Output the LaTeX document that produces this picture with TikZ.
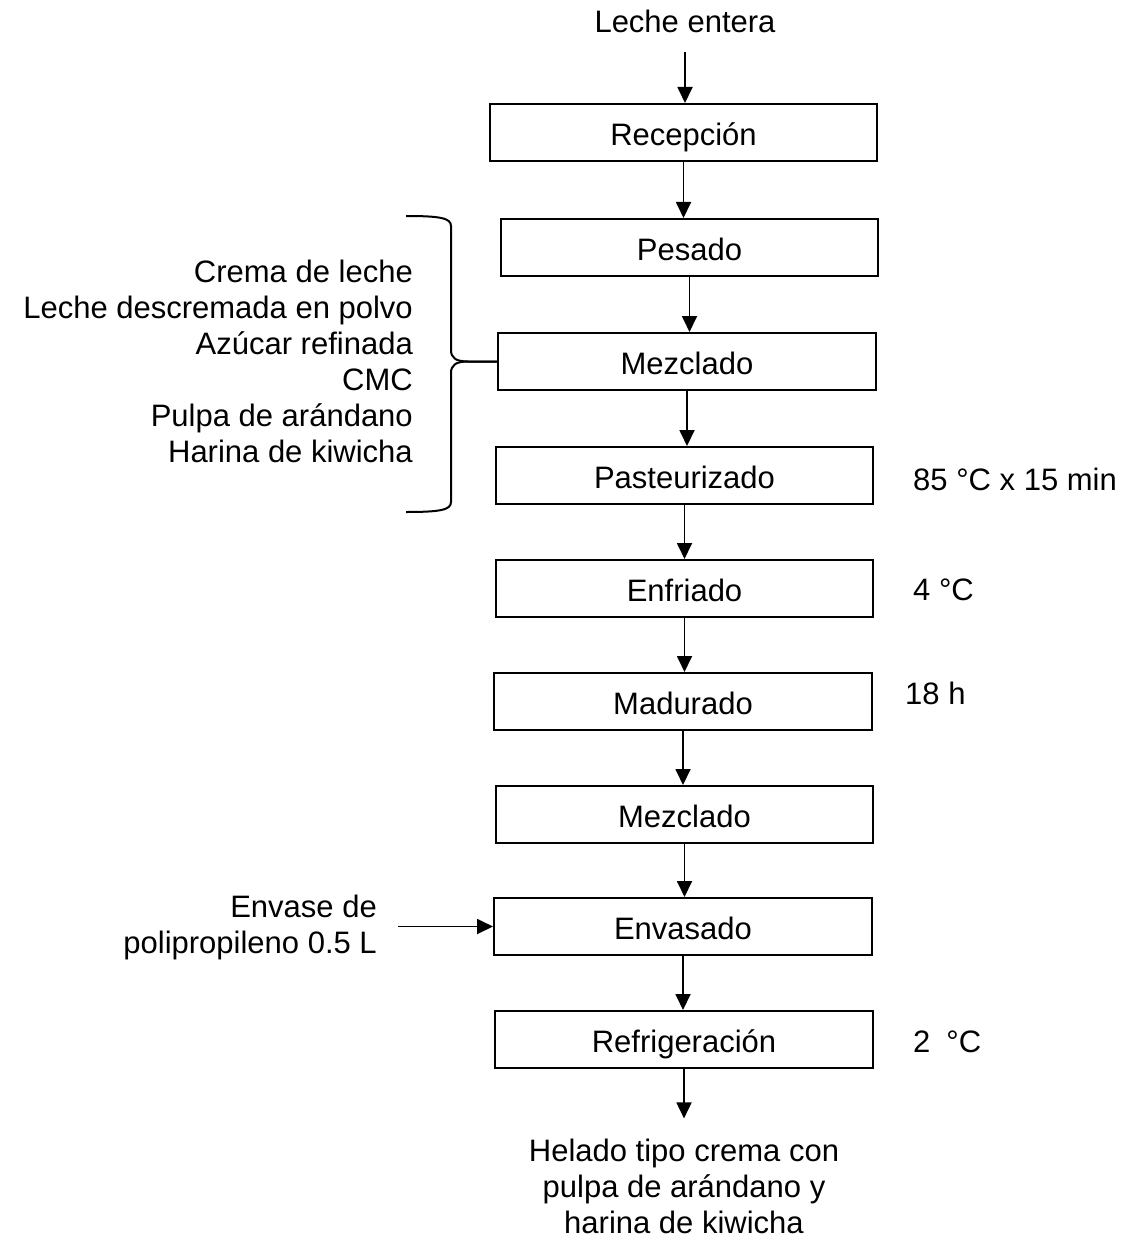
\documentclass[tikz,border=0pt]{standalone}
\usepackage{fontspec}
\setmainfont{Liberation Sans}
\usetikzlibrary{arrows.meta}
\begin{document}
\begin{tikzpicture}[x=1pt,y=-1pt,
  every node/.style={font=\fontsize{31}{36}\selectfont, inner sep=0pt},
  stepbox/.style={draw, line width=2pt, minimum width=378pt, minimum height=57pt, text height=26pt, text depth=0pt},
  arr/.style={line width=1.8pt, -{Triangle[width=15pt,length=16pt]}},
  brace/.style={line width=2pt},
  lbl/.style={anchor=west, text height=22pt, text depth=0pt}]
\useasboundingbox (0,0) rectangle (1130,1241);

\node[anchor=base] (milk) at (685,33) {Leche entera};
\node[stepbox, minimum width=387pt] (rec) at (683.5,132.5) {Recepción};
\node[stepbox, minimum width=377pt] (pes) at (689.5,247.5) {Pesado};
\node[stepbox] (mez1) at (687,361.5) {Mezclado};
\node[stepbox, minimum width=377pt] (pas) at (684.5,475.5) {Pasteurizado};
\node[stepbox, minimum width=377pt] (enf) at (684.5,588.5) {Enfriado};
\node[stepbox] (mad) at (683,701.5) {Madurado};
\node[stepbox, minimum width=377pt] (mez2) at (684.5,814.5) {Mezclado};
\node[stepbox] (env) at (683,926.5) {Envasado};
\node[stepbox] (ref) at (684,1039.5) {Refrigeración};

\node[align=center] (prod) at (684,1186) {Helado tipo crema con\\pulpa de arándano y\\harina de kiwicha};

\node[align=right, anchor=east] (ingr) at (413,361) {Crema de leche\\Leche descremada en polvo\\Azúcar refinada\\CMC\\Pulpa de arándano\\Harina de kiwicha};
\node[align=right, anchor=east] (envl) at (377,927) {Envase de\\polipropileno 0.5 L};

\node[lbl] (t1) at (913,479) {85 °C x 15 min};
\node[lbl] (t2) at (913,589) {4 °C};
\node[lbl] (t3) at (905,693) {18 h};
\node[lbl] (t4) at (913,1041) {2\hspace{16pt}°C};

% arrows
\coordinate (milkout) at ([yshift=-19pt]milk.south);
\draw[arr] (milkout) -- (milkout |- rec.north);
\foreach \a/\b in {rec/pes, pes/mez1, mez1/pas, pas/enf, enf/mad, mad/mez2, mez2/env, env/ref}
  \draw[arr] (\a.south) -- (\a.south |- \b.north);
\draw[arr, shorten >=20pt] (ref.south) -- (ref.south |- prod.north);

\coordinate (envin) at (398,926.5);
\draw[arr] (envin) -- (env.west);

% brace
\draw[brace] (406,216) .. controls (440,216) and (451,218) .. (451,226) -- (451,350)
  .. controls (451,358) and (456,361.5) .. (468,361.5) -- (mez1.west);
\draw[brace] (mez1.west) -- (468,361.5) .. controls (456,361.5) and (451,365) .. (451,373)
  -- (451,502) .. controls (451,510) and (440,512) .. (406,512);
\end{tikzpicture}
\end{document}
